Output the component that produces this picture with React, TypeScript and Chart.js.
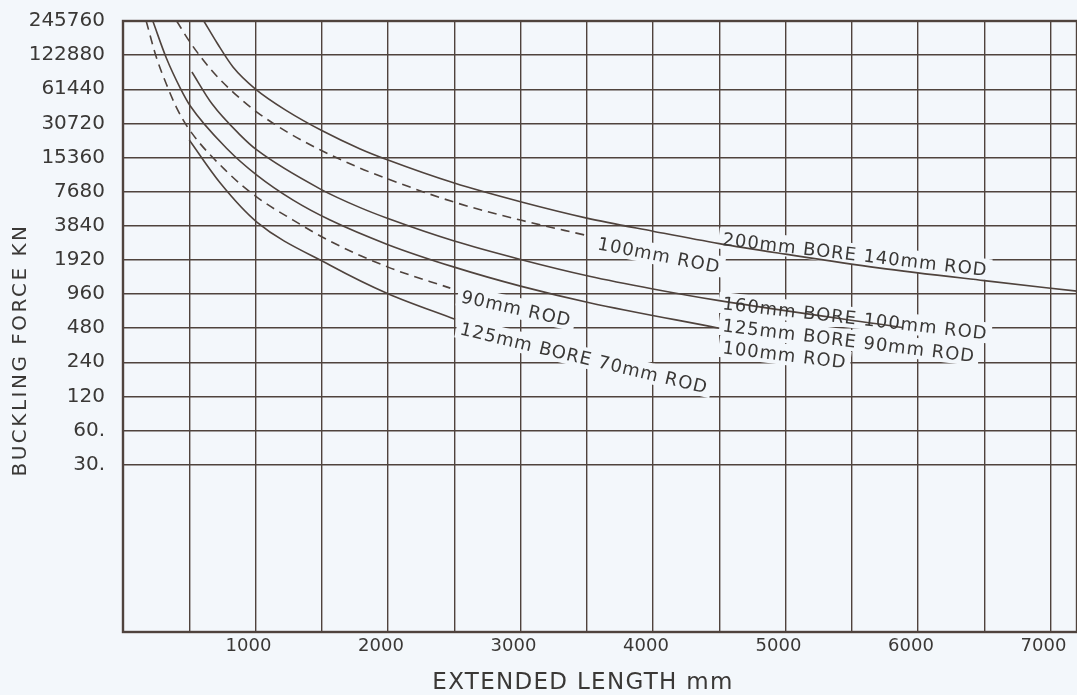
import React, { useEffect, useRef } from 'react';
import { Chart, registerables } from 'chart.js';

Chart.register(...registerables);

// ---------- data ----------
const X_GRID = [0, 500, 1000, 1500, 2000, 2500, 3000, 3500, 4000, 4500, 5000, 5500, 6000, 6500, 7000];
const Y_TICKS = [30, 60, 120, 240, 480, 960, 1920, 3840, 7680, 15360, 30720, 61440, 122880, 245760];
const Y_TICK_LABELS = ['30.', '60.', '120', '240', '480', '960', '1920', '3840', '7680', '15360', '30720', '61440', '122880', '245760'];

// 200mm bore 140mm rod (solid)
const A_MM = [610, 710, 830, 1000, 1240, 1500, 1790, 2000, 2500, 3000, 3500, 4000, 4500, 5000, 5700, 6500, 7200];
const A_KN = [245760, 157100, 96560, 61640, 39400, 26550, 18270, 14580, 9128, 6245, 4481, 3436, 2669, 2155, 1632, 1258, 1017];
// 200mm bore 100mm rod (dashed)
const B_MM = [405, 510, 680, 830, 1010, 1240, 1490, 1770, 2000, 2500, 3000, 3490];
const B_KN = [245760, 157100, 87220, 58020, 38660, 25730, 17890, 12640, 9911, 6198, 4306, 3168];
// 160mm bore 100mm rod (solid)
const C_MM = [520, 673, 885, 1010, 1490, 1790, 2000, 2500, 3000, 3520, 4000, 4500, 5880];
const C_KN = [87220, 45440, 24210, 17890, 8084, 5545, 4446, 2814, 1937, 1377, 1063, 838, 486];
// 125mm bore 90mm rod (solid)
const D_MM = [225, 327, 432, 508, 787, 1010, 1284, 1563, 2000, 2500, 3000, 3520, 4500];
const D_KN = [245760, 115900, 62900, 43700, 18270, 10740, 6456, 4306, 2615, 1656, 1126, 804, 479];
// 125mm bore 100mm rod (dashed)
const E_MM = [175, 251, 327, 402, 492, 787, 1010, 1284, 1563, 2000, 2470];
const E_KN = [245760, 118300, 68330, 42810, 27940, 11430, 6869, 4306, 2806, 1656, 1081];
// 125mm bore 70mm rod (solid)
const F_MM = [500, 734, 1010, 1563, 2000, 2506];
const F_KN = [21870, 9130, 4136, 1723, 966, 575];

const LABEL_TEXT = [
  '200mm BORE 140mm ROD',
  '100mm ROD',
  '160mm BORE 100mm ROD',
  '125mm BORE 90mm ROD',
  '100mm ROD',
  '90mm ROD',
  '125mm BORE 70mm ROD',
];
const LABEL_MM = [4520, 3575, 4520, 4520, 4520, 2545, 2536];
const LABEL_KN = [2600, 2385, 705, 451, 288, 813, 424];
const LABEL_ANGLE = [6.7, 11, 6.5, 7, 7, 12.5, 13.5];

// ---------- styles ----------
const BG = '#f3f7fb';
const INK = '#4f433d';
const TEXT = '#3a3836';
const FONT = "'DejaVu Sans', 'Liberation Sans', sans-serif";

const pts = (xs: number[], ys: number[]) => xs.map((x, i) => ({ x, y: ys[i] }));

const annotPlugin = {
  id: 'annot',
  beforeDatasetsDraw(chart: any) {
    const { ctx, scales } = chart;
    const xs = scales.x;
    const ys = scales.y;
    ctx.save();
    ctx.font = `18px ${FONT}`;
    (ctx as any).letterSpacing = '1px';
    LABEL_TEXT.forEach((t, i) => {
      const px = xs.getPixelForValue(LABEL_MM[i]);
      const py = ys.getPixelForValue(LABEL_KN[i]);
      const w = ctx.measureText(t).width;
      ctx.save();
      ctx.translate(px, py);
      ctx.rotate((LABEL_ANGLE[i] * Math.PI) / 180);
      ctx.fillStyle = BG;
      ctx.fillRect(-4, -17, w + 8, 21);
      ctx.restore();
    });
    ctx.restore();
  },
  afterDatasetsDraw(chart: any) {
    const { ctx, scales, chartArea } = chart;
    const xs = scales.x;
    const ys = scales.y;
    ctx.save();
    ctx.font = `18px ${FONT}`;
    (ctx as any).letterSpacing = '1px';
    ctx.fillStyle = TEXT;
    ctx.textBaseline = 'alphabetic';
    ctx.textAlign = 'left';
    LABEL_TEXT.forEach((t, i) => {
      const px = xs.getPixelForValue(LABEL_MM[i]);
      const py = ys.getPixelForValue(LABEL_KN[i]);
      ctx.save();
      ctx.translate(px, py);
      ctx.rotate((LABEL_ANGLE[i] * Math.PI) / 180);
      ctx.fillText(t, 0, 0);
      ctx.restore();
    });
    ctx.restore();

    // frame
    ctx.save();
    ctx.strokeStyle = INK;
    ctx.lineWidth = 2.4;
    ctx.strokeRect(chartArea.left, chartArea.top, chartArea.right - chartArea.left, chartArea.bottom - chartArea.top);
    ctx.restore();

    // axis titles
    ctx.save();
    ctx.fillStyle = TEXT;
    ctx.textAlign = 'center';
    ctx.textBaseline = 'middle';
    ctx.font = `23px ${FONT}`;
    (ctx as any).letterSpacing = '1.3px';
    ctx.fillText('EXTENDED LENGTH mm', (chartArea.left + chartArea.right) / 2 - 17, chartArea.bottom + 51);
    ctx.font = `20px ${FONT}`;
    (ctx as any).letterSpacing = '2.5px';
    ctx.translate(chartArea.left - 102, 350);
    ctx.rotate(-Math.PI / 2);
    ctx.fillText('BUCKLING FORCE KN', 0, 0);
    ctx.restore();
  },
};

export default function App() {
  const ref = useRef<HTMLCanvasElement | null>(null);
  useEffect(() => {
    if (!ref.current) return;
    const line = (xs: number[], ys: number[], dashed: boolean) => ({
      data: pts(xs, ys),
      borderColor: INK,
      borderWidth: 1.6,
      borderDash: dashed ? [9, 6] : [],
      pointRadius: 0,
      fill: false,
      tension: 0.4,
      cubicInterpolationMode: 'monotone' as const,
    });
    const chart = new Chart(ref.current, {
      type: 'line',
      data: {
        datasets: [
          line(A_MM, A_KN, false),
          line(B_MM, B_KN, true),
          line(C_MM, C_KN, false),
          line(D_MM, D_KN, false),
          line(E_MM, E_KN, true),
          line(F_MM, F_KN, false),
        ] as any,
      },
      options: {
        animation: false,
        responsive: true,
        maintainAspectRatio: false,
        layout: { padding: { left: 0, top: 21, right: 0, bottom: 0 } },
        plugins: { legend: { display: false }, tooltip: { enabled: false } },
        scales: {
          x: {
            type: 'linear',
            min: 0,
            max: 7200,
            afterBuildTicks: (s: any) => {
              s.ticks = X_GRID.map((v) => ({ value: v }));
            },
            afterFit: (s: any) => {
              s.height = 63;
              s.paddingLeft = 0;
              s.paddingRight = 0;
            },
            border: { display: false },
            grid: { color: INK, lineWidth: 1.4, drawTicks: false },
            ticks: {
              autoSkip: false,
              maxRotation: 0,
              padding: 4,
              labelOffset: -7,
              color: TEXT,
              font: { family: FONT, size: 18 },
              callback: (v: any) => (Number(v) % 1000 === 0 && Number(v) > 0 ? String(v) : ''),
            },
          },
          y: {
            type: 'logarithmic',
            min: 1,
            max: 245760,
            afterBuildTicks: (s: any) => {
              s.ticks = Y_TICKS.map((v) => ({ value: v }));
            },
            afterFit: (s: any) => {
              s.width = 123;
              s.paddingTop = 0;
              s.paddingBottom = 0;
            },
            border: { display: false },
            grid: { color: INK, lineWidth: 1.4, drawTicks: false },
            ticks: {
              autoSkip: false,
              padding: 18,
              color: TEXT,
              font: { family: FONT, size: 20 },
              callback: (v: any) => {
                const i = Y_TICKS.indexOf(Number(v));
                return i >= 0 ? Y_TICK_LABELS[i] : '';
              },
            },
          },
        },
      },
      plugins: [annotPlugin],
    });
    return () => chart.destroy();
  }, []);

  return (
    <div style={{ position: 'fixed', left: 0, top: 0, width: 1077, height: 695, background: BG }}>
      <canvas ref={ref} />
    </div>
  );
}
